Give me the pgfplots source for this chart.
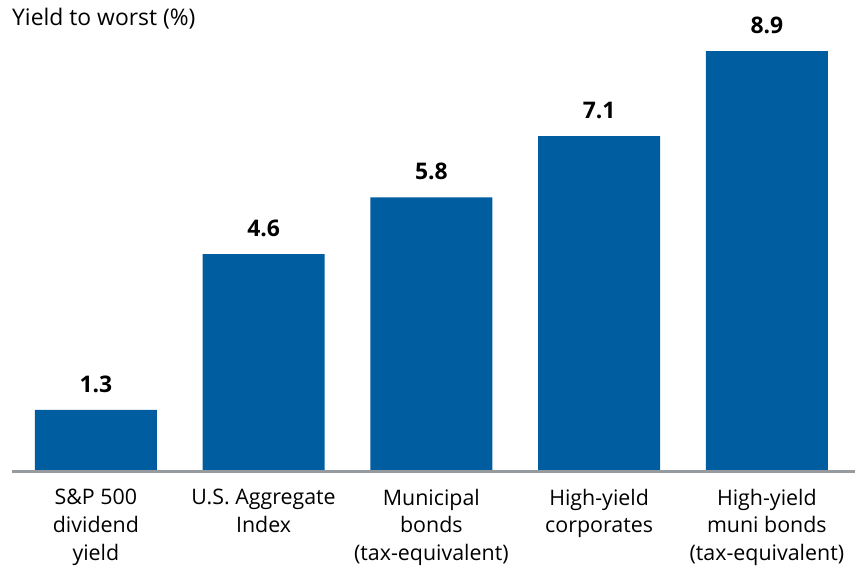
\documentclass[border=0pt]{standalone}
\usepackage{pgfplots}
\pgfplotsset{compat=1.18}
\usepackage{fontspec}
\setmainfont{Open Sans}
\definecolor{barblue}{RGB}{0,94,160}
\definecolor{basegray}{RGB}{150,155,160}
\begin{document}
\begin{tikzpicture}[x=1bp,y=1bp]
\begin{axis}[
    at={(12bp,95bp)}, anchor=south west,
    scale only axis,
    width=844bp, height=472bp,
    ybar, bar width=122bp,
    xmin=-0.5, xmax=4.524,
    ymin=0, ymax=9.98,
    axis line style={draw=none},
    hide y axis,
    xtick=data,
    xticklabels={{S\&P 500\\dividend\\yield},{U.S. Aggregate\\Index},{Municipal\\bonds\\(tax-equivalent)},{High-yield\\corporates},{High-yield\\muni bonds\\(tax-equivalent)}},
    xticklabel style={font=\fontsize{21.5}{28}\selectfont, align=center, yshift=-14bp},
    xtick style={draw=none},
    major tick length=0pt,
    nodes near coords,
    nodes near coords style={font=\fontsize{23}{24}\selectfont\bfseries, yshift=14bp, /pgf/number format/fixed, /pgf/number format/precision=1, /pgf/number format/fixed zerofill, /pgf/number format/assume math mode=true},
    clip=false,
]
\addplot[fill=barblue, draw=none] coordinates {(0,1.3) (1,4.6) (2,5.8) (3,7.1) (4,8.9)};
\draw[basegray, line width=2.5bp] (axis cs:-0.5,0) -- (axis cs:4.524,0);
\end{axis}
\node[anchor=west, font=\fontsize{23}{24}\selectfont, inner sep=0pt] at (12bp,548bp) {Yield to worst (\%)};
\path[use as bounding box] (0,0) rectangle (856bp,567bp);
\end{tikzpicture}
\end{document}
